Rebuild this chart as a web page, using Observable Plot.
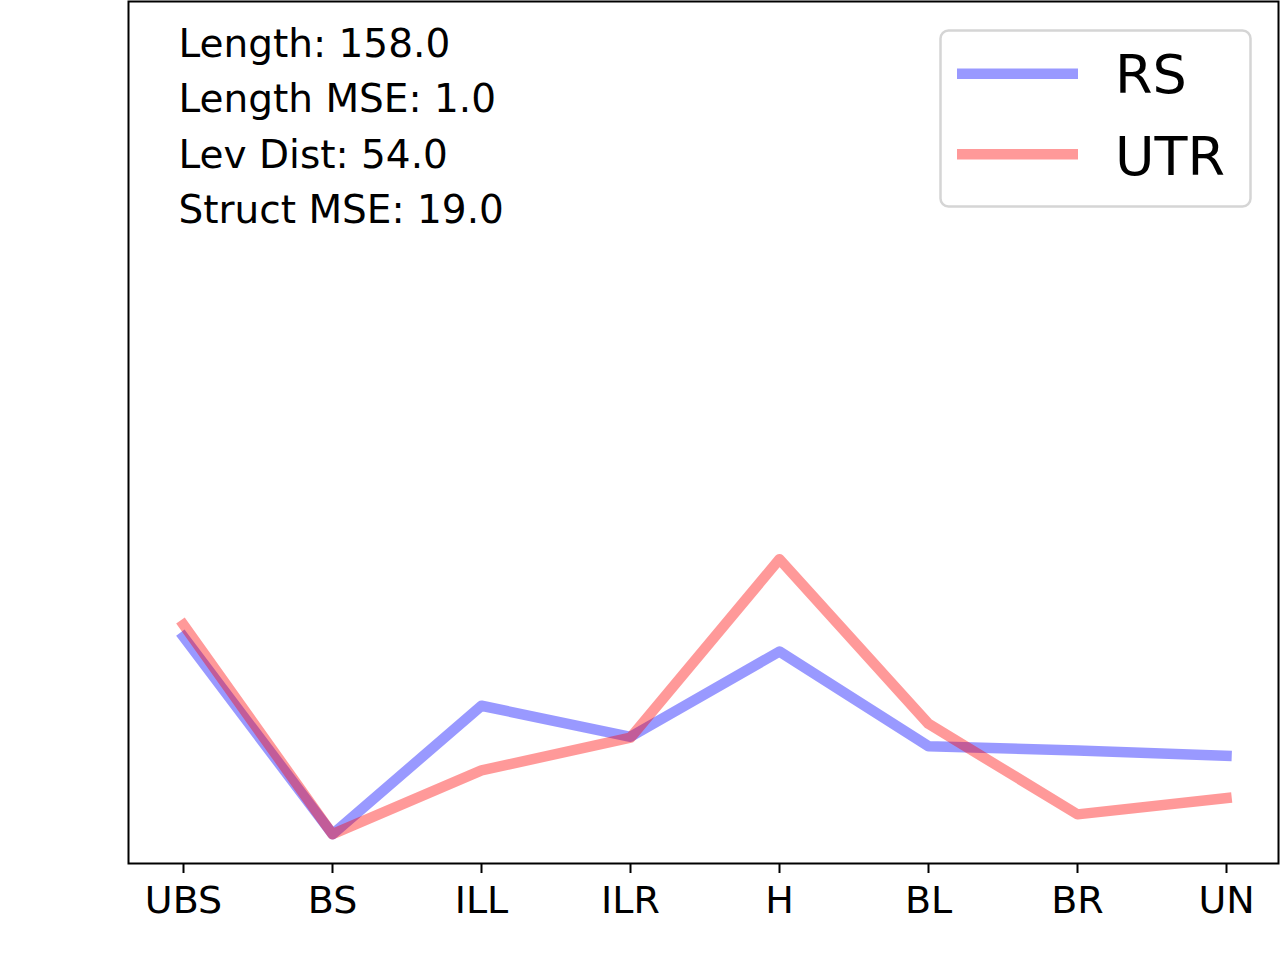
<!DOCTYPE html>
<html><head><meta charset="utf-8">
<script src="https://cdn.jsdelivr.net/npm/d3@7"></script>
<script src="https://cdn.jsdelivr.net/npm/@observablehq/plot@0.6"></script>
<style>
body{margin:0;background:#fff;}
#wrap{position:relative;width:1280px;height:960px;}
#legend{position:absolute;left:939px;top:29px;}
</style></head><body><div id="wrap"></div>
<script>
const categories = ["UBS","BS","ILL","ILR","H","BL","BR","UN"];
const rsValues = [26.3,3.4,18.3,14.7,24.6,13.6,13.1,12.5];
const utrValues = [27.7,3.4,10.8,14.6,35.3,16.2,5.7,7.6];
const seriesNames = ["RS","UTR"];
const seriesColors = ["blue","red"];
const statLines = ["Length: 158.0","Length MSE: 1.0","Lev Dist: 54.0","Struct MSE: 19.0"];

const rsRows = categories.map((c,i)=>({cat:c, value:rsValues[i]}));
const utrRows = categories.map((c,i)=>({cat:c, value:utrValues[i]}));
const FONT = "DejaVu Sans";

const chart = Plot.plot({
  width:1280, height:960,
  marginLeft:128, marginRight:2, marginTop:1, marginBottom:97,
  style:{fontFamily:FONT, background:"white", color:"black"},
  x:{type:"point", domain:categories, range:[180,1228], padding:0},
  y:{domain:[0,100], axis:null},
  marks:[
    Plot.line(rsRows,{x:"cat", y:"value", stroke:seriesColors[0], strokeOpacity:0.4, strokeWidth:10.5, strokeLinecap:"square", strokeLinejoin:"round"}),
    Plot.line(utrRows,{x:"cat", y:"value", stroke:seriesColors[1], strokeOpacity:0.4, strokeWidth:10.5, strokeLinecap:"square", strokeLinejoin:"round"}),
    Plot.frame({stroke:"black", strokeWidth:2}),
    Plot.axisX({tickSize:10, tickPadding:13, fontSize:38, strokeWidth:2, label:null, fill:"black"}),
    Plot.text([statLines.join("\n")],{text:d=>d, frameAnchor:"top-left", textAnchor:"start", lineAnchor:"top", dx:50, dy:16, fontSize:39, lineHeight:1.42, fill:"black", fontFamily:FONT})
  ]
});
const wrap = document.getElementById("wrap");
wrap.appendChild(chart);

// legend overlay
const lg = d3.select(wrap).append("svg").attr("id","legend").attr("width",313).attr("height",179);
lg.append("rect").attr("x",1.5).attr("y",1.5).attr("width",310).attr("height",176).attr("rx",8)
  .attr("fill","white").attr("fill-opacity",0.8).attr("stroke","#d5d5d5").attr("stroke-width",2.5);
const rowY = [44.7,125.3];
const baseY = [63.7,146];
seriesNames.forEach((n,i)=>{
  lg.append("line").attr("x1",18).attr("x2",139).attr("y1",rowY[i]).attr("y2",rowY[i])
    .attr("stroke",seriesColors[i]).attr("stroke-opacity",0.4).attr("stroke-width",10.5);
  lg.append("text").attr("x",176).attr("y",baseY[i]).attr("font-family",FONT).attr("font-size",54).attr("fill","black").text(n);
});
</script></body></html>
